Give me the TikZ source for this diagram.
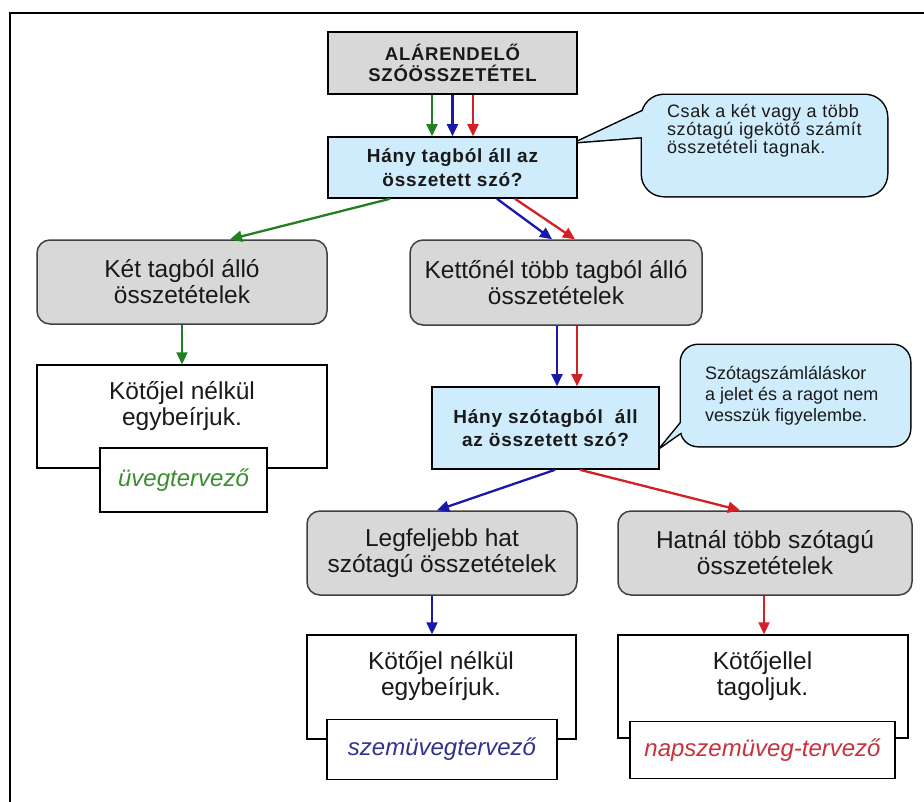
\documentclass[tikz,border=0pt]{standalone}
\usepackage{fontspec}
\setmainfont{Liberation Sans}
\newfontfamily\spc[LetterSpace=4]{Liberation Sans}
\newfontfamily\spcc[LetterSpace=3]{Liberation Sans}
\usetikzlibrary{arrows.meta}
\definecolor{grayfill}{RGB}{216,216,216}
\definecolor{lblue}{RGB}{206,236,252}
\definecolor{boxedge}{RGB}{64,64,64}
\definecolor{txt}{RGB}{25,25,25}
\definecolor{cgreen}{RGB}{34,128,34}
\definecolor{cblue}{RGB}{24,24,170}
\definecolor{cred}{RGB}{210,32,36}
\definecolor{exgreen}{RGB}{60,140,50}
\definecolor{exblue}{RGB}{50,50,140}
\definecolor{exred}{RGB}{200,50,60}
\begin{document}
\begin{tikzpicture}[x=1pt,y=-1pt,
  graybox/.style={draw=boxedge, fill=grayfill, rounded corners=13pt, line width=1.5pt, inner sep=0pt, align=center, text=txt, font=\fontsize{24.5}{26}\selectfont},
  qbox/.style={draw=black, fill=lblue, line width=1.6pt, inner sep=0pt, align=center, text=txt, font=\spc\bfseries\fontsize{19}{23.5}\selectfont},
  ansbox/.style={draw=black, fill=white, line width=1.5pt, inner sep=0pt},
  anstext/.style={inner sep=0pt, align=center, text=txt, font=\fontsize{24.5}{26}\selectfont},
  exbox/.style={draw=black, fill=white, line width=1.5pt, inner sep=0pt, font=\itshape\fontsize{24}{26}\selectfont},
  calltext/.style={inner sep=0pt, align=left, text=txt, anchor=west},
  bubble/.style={fill=lblue, draw=black, line width=3pt},
  conn/.style={line width=2.3pt, -{Triangle[length=12pt,width=11pt]}},
]
\useasboundingbox (0,0) rectangle (924,801);
\fill[white] (0,0) rectangle (924,801);
% frame
\draw[line width=2.5pt, black] (10,805) -- (10,13) -- (930,13);

% callout 1
\draw[bubble, rounded corners=22pt] (642,95) rectangle (887,196);
\draw[bubble] (577,142) -- (665,100.6) -- (665,135.2) -- cycle;
\fill[lblue, rounded corners=22pt] (642,95) rectangle (887,196);
\fill[lblue] (577,142) -- (665,100.6) -- (665,135.2) -- cycle;
\node[calltext, font=\spcc\fontsize{18}{18}\selectfont] (c1t) at (667,131)
  {Csak a két vagy a több\\szótagú igekötő számít\\összetételi tagnak.};

% callout 2
\draw[bubble, rounded corners=17pt] (681,345) rectangle (910,446);
\draw[bubble] (663,445) -- (692,409.6) -- (700,419.1) -- cycle;
\fill[lblue, rounded corners=17pt] (681,345) rectangle (910,446);
\fill[lblue] (663,445) -- (692,409.6) -- (700,419.1) -- cycle;
\node[calltext, font=\fontsize{18}{21}\selectfont] (c2t) at (705,396)
  {Szótagszámláláskor\\a jelet és a ragot nem\\vesszük figyelembe.};

% boxes
\node[qbox, fill=grayfill, minimum width=249pt, minimum height=62pt,
      font=\spc\bfseries\fontsize{18.5}{21}\selectfont] (root) at (452.5,63)
  {ALÁRENDELŐ\\SZÓÖSSZETÉTEL};
\node[qbox, minimum width=249pt, minimum height=61pt] (q1) at (452.5,167.5)
  {Hány tagból áll az\\összetett szó?};
\node[graybox, minimum width=290pt, minimum height=84pt] (two) at (182,282)
  {Két tagból álló\\összetételek};
\node[graybox, minimum width=292pt, minimum height=85pt] (more) at (556,282.5)
  {Kettőnél több tagból álló\\összetételek};

\node[ansbox, minimum width=290pt, minimum height=103pt] (ansA) at (182,416.5) {};
\node[anstext] (ansAt) at (182,406) {Kötőjel nélkül\\egybeírjuk.};
\node[exbox, minimum width=167pt, minimum height=64pt, text=exgreen] (exA) at (183.5,480) {üvegtervező};

\node[qbox, minimum width=227pt, minimum height=82pt] (q2) at (545.5,428)
  {Hány szótagból\ \ áll\\az összetett szó?};

\node[graybox, minimum width=270pt, minimum height=84pt] (legf) at (442,553)
  {Legfeljebb hat\\szótagú összetételek};
\node[graybox, minimum width=294pt, minimum height=84pt] (hatnal) at (765,553)
  {Hatnál több szótagú\\összetételek};

\node[ansbox, minimum width=269pt, minimum height=104pt] (ansB) at (441.5,687) {};
\node[anstext] (ansBt) at (441,676) {Kötőjel nélkül\\egybeírjuk.};
\node[exbox, minimum width=230pt, minimum height=60pt, text=exblue] (exB) at (442,749.5) {szemüvegtervező};

\node[ansbox, minimum width=290pt, minimum height=103pt] (ansC) at (763,686.5) {};
\node[anstext] (ansCt) at (762.5,676) {Kötőjellel\\tagoljuk.};
\node[exbox, minimum width=265pt, minimum height=57pt, text=exred] (exC) at (762.5,750) {napszemüveg-tervező};

% connectors
\draw[conn, cgreen] ([xshift=-20.5pt]root.south) -- ([xshift=-20.5pt]q1.north);
\draw[conn, cblue] (root.south) -- (q1.north);
\draw[conn, cred] ([xshift=20.5pt]root.south) -- ([xshift=20.5pt]q1.north);

\draw[conn, cgreen] ([xshift=-62.5pt]q1.south) -- ([xshift=48pt]two.north);
\draw[conn, cblue] ([xshift=44.5pt]q1.south) -- ([xshift=-4pt]more.north);
\draw[conn, cred] ([xshift=62.5pt]q1.south) -- ([xshift=19pt]more.north);

\draw[conn, cgreen] (two.south) -- (ansA.north);

\draw[conn, cblue] ([xshift=1pt]more.south) -- ([xshift=1pt]more.south |- q2.north);
\draw[conn, cred] ([xshift=21pt]more.south) -- ([xshift=21pt]more.south |- q2.north);

\draw[conn, cblue] ([xshift=9.5pt]q2.south) -- ([xshift=-5pt]legf.north);
\draw[conn, cred] ([xshift=34.5pt]q2.south) -- ([xshift=-25pt]hatnal.north);

\draw[conn, cblue] ([xshift=-10pt]legf.south) -- ([xshift=-10pt]legf.south |- ansB.north);
\draw[conn, cred] ([xshift=-1pt]hatnal.south) -- ([xshift=-1pt]hatnal.south |- ansC.north);
\end{tikzpicture}
\end{document}
